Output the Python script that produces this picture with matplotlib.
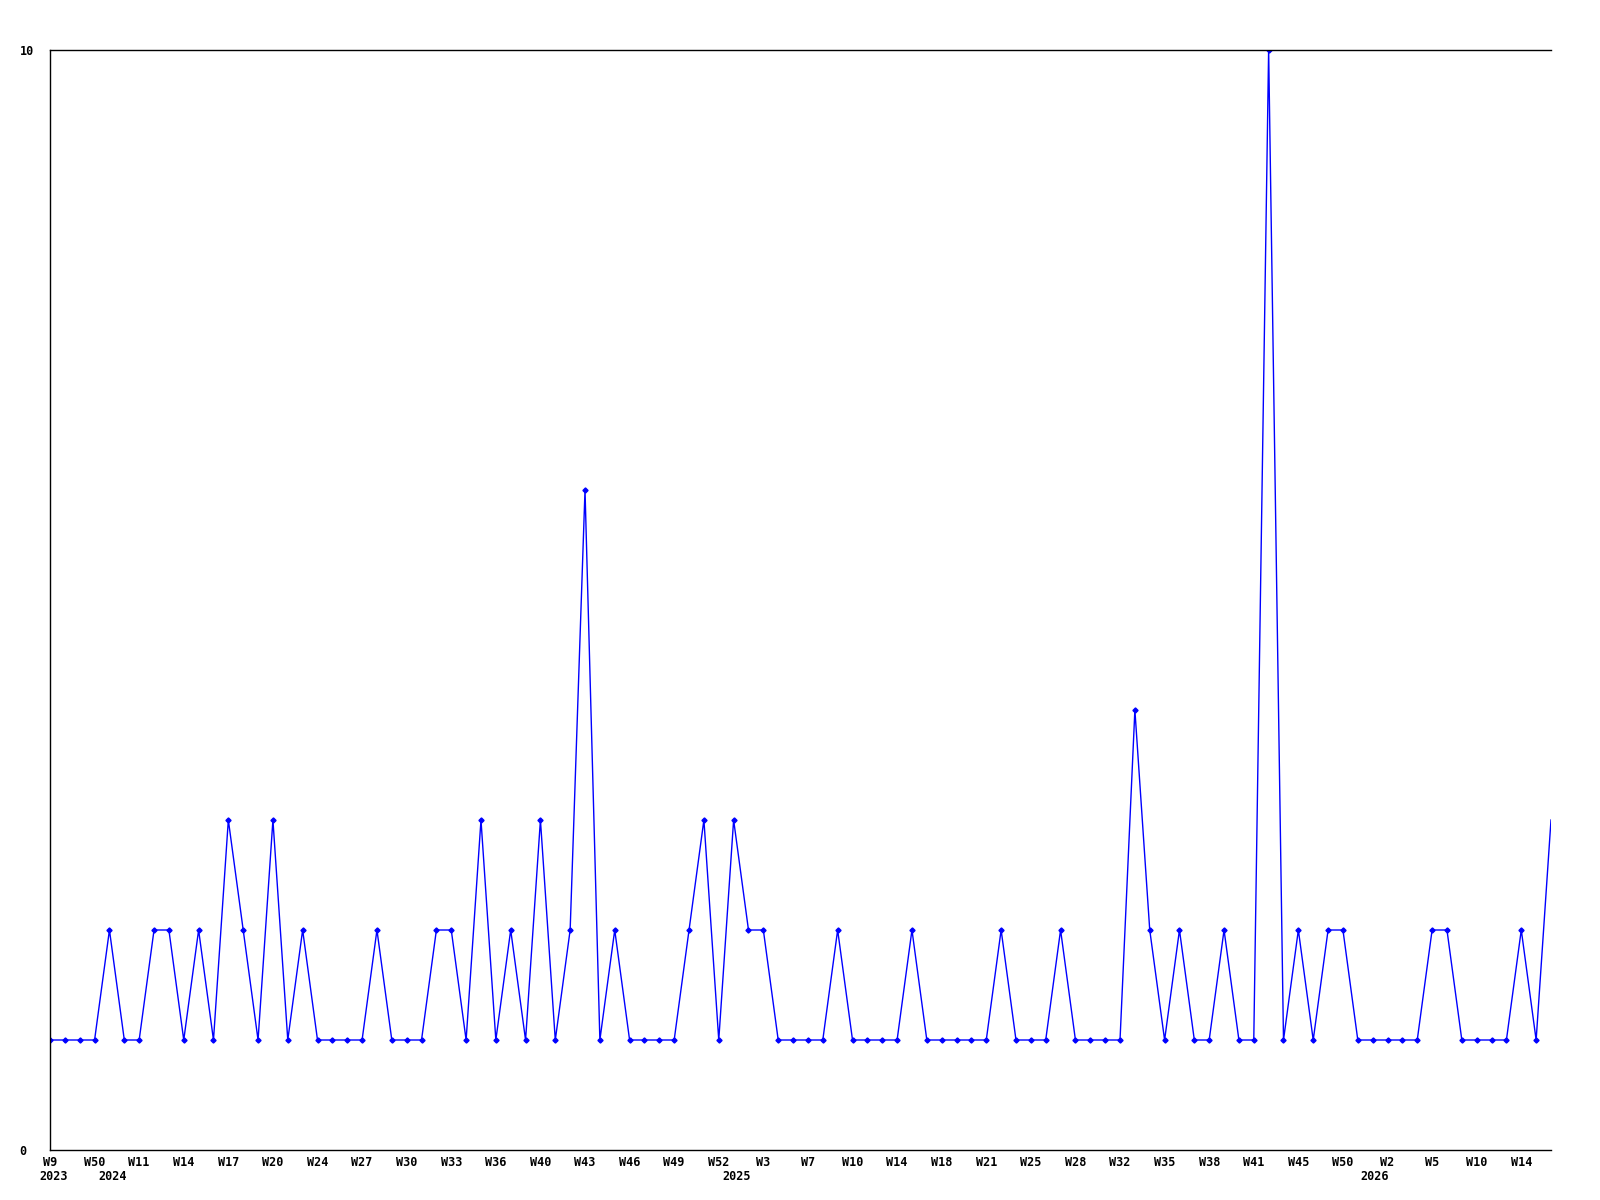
import matplotlib
matplotlib.use("Agg")
import matplotlib.pyplot as plt
import matplotlib.transforms as mtransforms

plt.rcParams['font.family'] = ['DejaVu Sans Mono']
plt.rcParams['font.weight'] = 'bold'

# weekly counts, one per point
values = [1, 1, 1, 1, 2, 1, 1, 2, 2, 1, 2, 1, 3, 2, 1, 3, 1, 2, 1, 1,
          1, 1, 2, 1, 1, 1, 2, 2, 1, 3, 1, 2, 1, 3, 1,
          2, 6, 1, 2, 1, 1, 1, 1, 2, 3, 1, 3, 2, 2, 1, 1, 1, 1, 2, 1,
          1, 1, 1, 2, 1, 1, 1, 1, 1, 2, 1, 1, 1, 2, 1,
          1, 1, 1, 4, 2, 1, 2, 1, 1, 2, 1, 1, 10, 1, 2, 1, 2, 2, 1, 1,
          1, 1, 1, 2, 2, 1, 1, 1, 1, 2, 1, 3]

week_labels = ['W9', 'W50', 'W11', 'W14', 'W17', 'W20', 'W24', 'W27', 'W30',
               'W33', 'W36', 'W40', 'W43', 'W46', 'W49', 'W52', 'W3', 'W7',
               'W10', 'W14', 'W18', 'W21', 'W25', 'W28', 'W32', 'W35', 'W38',
               'W41', 'W45', 'W50', 'W2', 'W5', 'W10', 'W14']
week_idx = list(range(0, 100, 3))

year_labels = ['2023', '2024', '2025', '2026']
year_idx = [0.25, 4.2, 46.2, 89.1]

x = list(range(len(values)))

fig = plt.figure(figsize=(16, 12), dpi=100)
ax = fig.add_axes([50 / 1600, 1 - 1150 / 1200, 1501 / 1600, 1100 / 1200])

ax.plot(x, values, '-', color='#0000ff', linewidth=1.0,
        marker='D', markersize=2.6, markerfacecolor='#0000ff',
        markeredgecolor='#0000ff', markevery=list(range(len(values) - 1)))

ax.set_xlim(0, len(values) - 1)
ax.set_ylim(0, 10)

ax.spines['right'].set_visible(False)
for s in ['left', 'bottom', 'top']:
    ax.spines[s].set_linewidth(1.0)
    ax.spines[s].set_color('black')

ax.set_xticks(week_idx)
ax.set_xticklabels(week_labels, fontsize=8.5, fontweight='bold')
ax.set_yticks([0, 10])
ax.set_yticklabels(['0', '10'], fontsize=8.5, fontweight='bold')
for lab in ax.get_yticklabels():
    lab.set_horizontalalignment('left')
ax.tick_params(axis='x', length=0, pad=4)
ax.tick_params(axis='y', length=0, pad=22)

trans = mtransforms.blended_transform_factory(ax.transData, ax.transAxes)
for xi, yl in zip(year_idx, year_labels):
    ax.text(xi, -0.024, yl, transform=trans, ha='center', va='center',
            fontsize=8.5, fontweight='bold')

fig.savefig('out.png', dpi=100)
